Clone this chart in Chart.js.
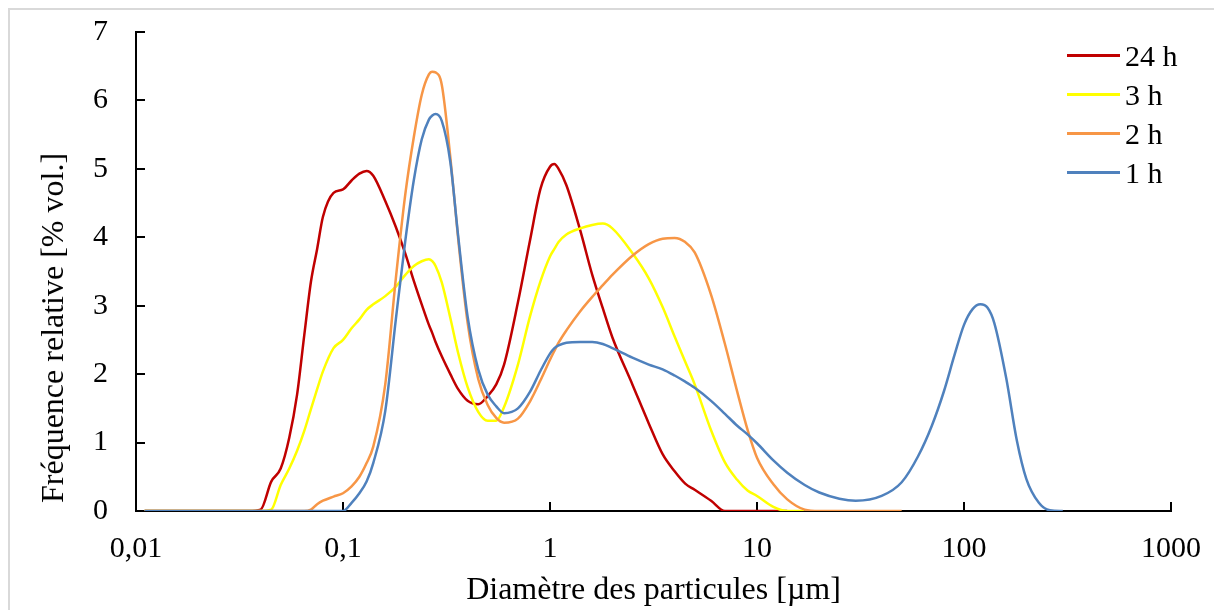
<!DOCTYPE html>
<html><head><meta charset="utf-8">
<script src="https://cdn.jsdelivr.net/npm/chart.js@4"></script>
<style>
html,body{margin:0;padding:0;background:#fff;overflow:hidden;}
#wrap{position:relative;width:1214px;height:610px;font-family:'Liberation Serif','Times New Roman',serif;color:#000;}
#frame{position:absolute;left:8px;top:8px;width:1300px;height:700px;border-left:2px solid #d9d9d9;border-top:2px solid #d9d9d9;}
canvas{position:absolute;left:0;top:0;}
#ytitle{position:absolute;left:52px;top:328px;transform:translate(-50%,-50%) rotate(-90deg);white-space:nowrap;font-size:32px;line-height:1;}
#legend{position:absolute;left:1067px;top:36px;}
.row{height:39px;display:flex;align-items:center;font-size:30px;}
.sw{width:53px;height:3px;margin-right:5px;}
</style></head>
<body><div id="wrap"><div id="frame"></div><canvas id="c" width="1214" height="610"></canvas>
<div id="ytitle"></div><div id="legend"></div></div>
<script>
const seriesNames = ['24 h', '3 h', '2 h', '1 h'];
const seriesColors = ['#C00000', '#FFFF00', '#F79646', '#4F81BD'];
const xTitle = 'Diamètre des particules [µm]';
const yTitle = 'Fréquence relative [% vol.]';
const xTickValues = [0.01, 0.1, 1, 10, 100, 1000];
const xTickLabels = ['0,01', '0,1', '1', '10', '100', '1000'];
const yTickValues = [0, 1, 2, 3, 4, 5, 6, 7];

const sizes = [0.011, 0.02, 0.03, 0.035, 0.04, 0.045, 0.05, 0.055, 0.06, 0.065,
  0.07, 0.075, 0.08, 0.09, 0.1, 0.11, 0.12, 0.13, 0.14, 0.16,
  0.18, 0.2, 0.22, 0.24, 0.26, 0.27, 0.28, 0.3, 0.33, 0.36,
  0.4, 0.45, 0.5, 0.55, 0.6, 0.7, 0.8, 0.9, 1.0, 1.05,
  1.1, 1.2, 1.4, 1.6, 1.8, 2, 2.5, 3, 3.5, 4,
  4.5, 5, 6, 7, 8, 9, 10, 12, 14, 17,
  20, 25, 30, 40, 50, 60, 70, 80, 90, 100,
  110, 120, 130, 140, 160, 180, 200, 230, 260, 300];

const h24 = [0, 0, 0, 0, 0.02, 0.43, 0.62, 1.07, 1.70, 2.57,
  3.35, 3.83, 4.30, 4.65, 4.70, 4.83, 4.93, 4.97, 4.90, 4.53,
  4.15, 3.76, 3.36, 3.02, 2.72, 2.60, 2.47, 2.26, 2.00, 1.78,
  1.61, 1.56, 1.68, 1.85, 2.14, 3.05, 3.95, 4.71, 5.03, 5.07,
  5.00, 4.76, 4.10, 3.45, 2.96, 2.54, 1.85, 1.28, 0.83, 0.58,
  0.40, 0.31, 0.15, 0, 0, 0, 0, 0, 0, null,
  null, null, null, null, null, null, null, null, null, null,
  null, null, null, null, null, null, null, null, null, null];

const h3 = [0, 0, 0, 0, 0, 0.02, 0.38, 0.62, 0.88, 1.17,
  1.49, 1.78, 2.04, 2.38, 2.50, 2.67, 2.80, 2.94, 3.02, 3.14,
  3.28, 3.45, 3.58, 3.65, 3.68, 3.65, 3.58, 3.34, 2.82, 2.31,
  1.81, 1.45, 1.32, 1.32, 1.52, 2.14, 2.84, 3.36, 3.72, 3.83,
  3.93, 4.04, 4.13, 4.18, 4.20, 4.13, 3.77, 3.40, 2.98, 2.55,
  2.18, 1.85, 1.18, 0.71, 0.46, 0.30, 0.22, 0.06, 0, 0,
  null, null, null, null, null, null, null, null, null, null,
  null, null, null, null, null, null, null, null, null, null];

const h2 = [0, 0, 0, 0, 0, 0, 0, 0, 0, 0,
  0.02, 0.10, 0.15, 0.21, 0.26, 0.36, 0.50, 0.70, 0.94, 1.85,
  3.40, 4.63, 5.47, 6.08, 6.38, 6.42, 6.41, 6.23, 5.17, 3.98,
  2.75, 1.93, 1.55, 1.36, 1.29, 1.35, 1.60, 1.91, 2.21, 2.34,
  2.46, 2.64, 2.92, 3.13, 3.30, 3.45, 3.73, 3.90, 3.98, 3.99,
  3.93, 3.78, 3.16, 2.44, 1.76, 1.19, 0.78, 0.39, 0.17, 0.02,
  0, 0, 0, 0, 0, null, null, null, null, null,
  null, null, null, null, null, null, null, null, null, null];

const h1 = [0, 0, 0, 0, 0, 0, 0, 0, 0, 0,
  0, 0, 0, 0, 0, 0.12, 0.26, 0.43, 0.70, 1.46,
  2.80, 3.95, 4.84, 5.43, 5.72, 5.78, 5.80, 5.70, 5.10, 4.02,
  2.84, 2.07, 1.70, 1.53, 1.43, 1.50, 1.74, 2.05, 2.30, 2.38,
  2.42, 2.46, 2.47, 2.47, 2.44, 2.38, 2.24, 2.14, 2.07, 1.98,
  1.89, 1.80, 1.61, 1.42, 1.25, 1.12, 0.99, 0.74, 0.56, 0.38,
  0.27, 0.18, 0.15, 0.22, 0.42, 0.80, 1.25, 1.75, 2.28, 2.72,
  2.95, 3.02, 2.97, 2.75, 1.94, 1.03, 0.47, 0.12, 0.01, 0];

const seriesValues = [h24, h3, h2, h1];

const FONT = "'Liberation Serif', 'Times New Roman', serif";

document.getElementById('ytitle').textContent = yTitle;
const legend = document.getElementById('legend');
seriesNames.forEach((n, i) => {
  const r = document.createElement('div'); r.className = 'row';
  const s = document.createElement('div'); s.className = 'sw'; s.style.background = seriesColors[i];
  const t = document.createElement('span'); t.textContent = n;
  r.appendChild(s); r.appendChild(t); legend.appendChild(r);
});

const datasets = seriesNames.map((n, i) => ({
  label: n,
  data: sizes.map((d, k) => ({x: d, y: seriesValues[i][k]})),
  borderColor: seriesColors[i],
  backgroundColor: seriesColors[i],
  borderWidth: 2.5,
  pointRadius: 0,
  fill: false,
  cubicInterpolationMode: 'monotone',
  spanGaps: false,
  order: seriesNames.length - 1 - i
}));

const innerTicks = {
  id: 'innerTicks',
  beforeDatasetsDraw(chart) {
    const {ctx, scales: {x, y}} = chart;
    ctx.save();
    ctx.strokeStyle = '#000'; ctx.lineWidth = 2;
    x.ticks.forEach(t => {
      const px = Math.round(x.getPixelForValue(t.value));
      ctx.beginPath(); ctx.moveTo(px, y.bottom); ctx.lineTo(px, y.bottom - 9); ctx.stroke();
    });
    y.ticks.forEach(t => {
      const py = Math.round(y.getPixelForValue(t.value));
      ctx.beginPath(); ctx.moveTo(x.left, py); ctx.lineTo(x.left + 9, py); ctx.stroke();
    });
    ctx.restore();
  }
};

new Chart(document.getElementById('c'), {
  type: 'line',
  data: {datasets},
  options: {
    responsive: false, animation: false, devicePixelRatio: 1,
    layout: {autoPadding: false, padding: {top: 32, right: 43, left: 0, bottom: 0}},
    plugins: {legend: {display: false}, tooltip: {enabled: false}},
    scales: {
      x: {
        type: 'logarithmic', min: 0.01, max: 1000,
        afterBuildTicks: s => { s.ticks = xTickValues.map(v => ({value: v})); },
        afterFit: s => { s.height = 99; s.paddingLeft = 0; s.paddingRight = 0; s.paddingTop = 0; s.paddingBottom = 0; },
        grid: {display: false, drawTicks: false},
        border: {display: true, color: '#000', width: 2},
        ticks: {autoSkip: false, maxRotation: 0, padding: 20, color: '#000',
          font: {family: FONT, size: 30},
          callback: (v, i) => xTickLabels[i]},
        title: {display: true, text: xTitle, color: '#000', font: {family: FONT, size: 32}, padding: {top: 0, bottom: 0}}
      },
      y: {
        type: 'linear', min: 0, max: 7,
        afterBuildTicks: s => { s.ticks = yTickValues.map(v => ({value: v})); },
        afterFit: s => { s.width = 136; s.paddingLeft = 0; s.paddingRight = 0; s.paddingTop = 0; s.paddingBottom = 0; },
        grid: {display: false, drawTicks: false},
        border: {display: true, color: '#000', width: 2},
        ticks: {padding: 28, color: '#000', font: {family: FONT, size: 30}}
      }
    }
  },
  plugins: [innerTicks]
});
</script></body></html>
